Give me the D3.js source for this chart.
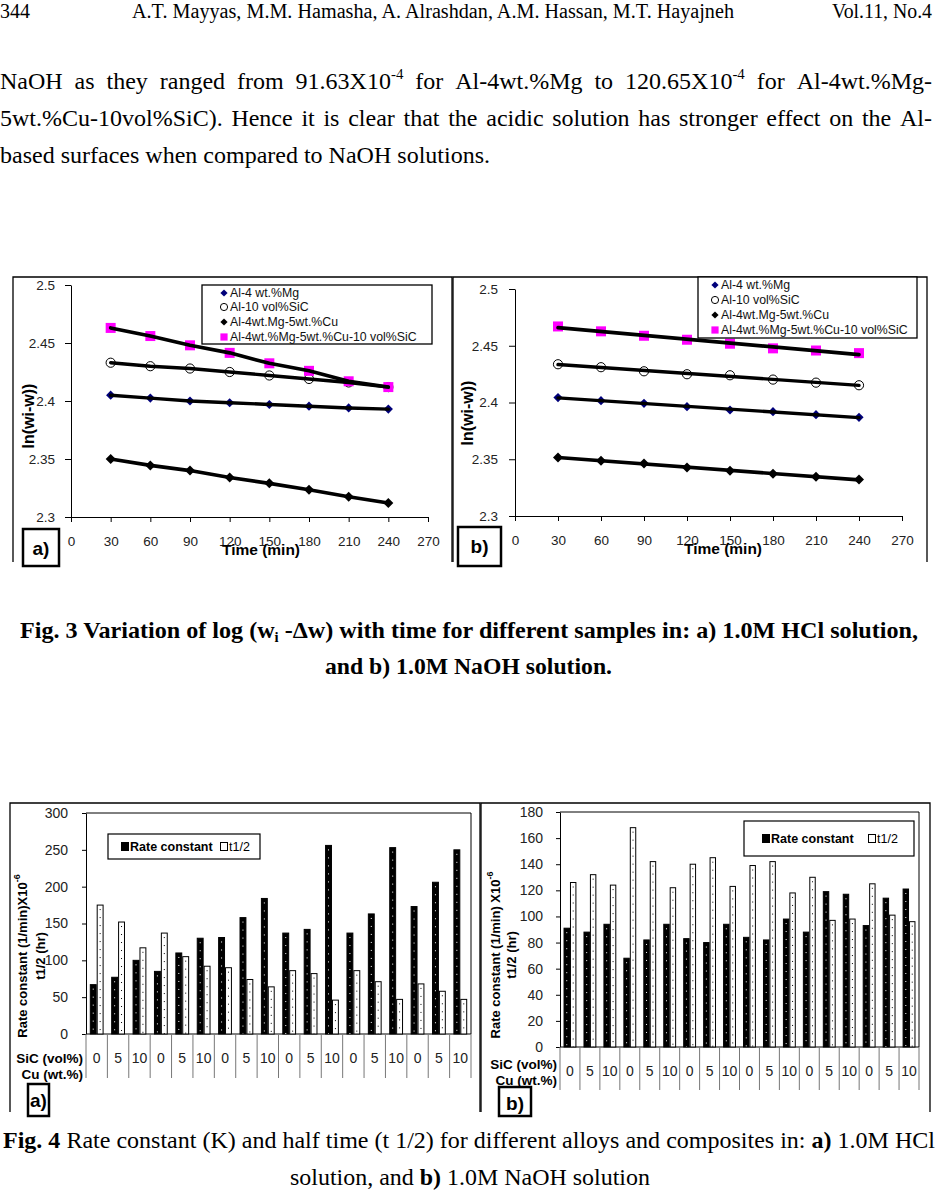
<!DOCTYPE html>
<html><head><meta charset="utf-8">
<script src="https://cdn.jsdelivr.net/npm/d3@7"></script>
<style>body{margin:0;background:#fff}svg{display:block}</style>
</head><body>
<svg id="page" width="937" height="1194"></svg>
<script>
// ---------------- DATA ----------------
const times = [30, 60, 90, 120, 150, 180, 210, 240];
const xTicks = [0, 30, 60, 90, 120, 150, 180, 210, 240, 270];
const yTicks = [2.3, 2.35, 2.4, 2.45, 2.5];
const yTickLabels = ["2.3", "2.35", "2.4", "2.45", "2.5"];
const seriesNames = ["Al-4 wt.%Mg", "Al-10 vol%SiC", "Al-4wt.Mg-5wt.%Cu", "Al-4wt.%Mg-5wt.%Cu-10 vol%SiC"];

// Fig 3a (1.0M HCl)
const hclMg       = [2.405, 2.4025, 2.400, 2.3985, 2.397, 2.3955, 2.394, 2.393];
const hclSiC      = [2.433, 2.430, 2.428, 2.425, 2.422, 2.419, 2.416, 2.412];
const hclMgCu     = [2.350, 2.3445, 2.340, 2.334, 2.329, 2.3235, 2.3175, 2.312];
const hclMgCuSiC  = [2.463, 2.456, 2.448, 2.4415, 2.4325, 2.426, 2.417, 2.412];
// Fig 3b (1.0M NaOH)
const naohMg      = [2.4043, 2.4016, 2.3993, 2.3963, 2.3934, 2.3919, 2.3893, 2.3869];
const naohSiC     = [2.4337, 2.4311, 2.4275, 2.4249, 2.4240, 2.4202, 2.4175, 2.4152];
const naohMgCu    = [2.3516, 2.3487, 2.3463, 2.3428, 2.3399, 2.3372, 2.3346, 2.3322];
const naohMgCuSiC = [2.467, 2.4627, 2.4588, 2.4553, 2.4518, 2.4477, 2.4458, 2.4435];

// Fig 4
const sicLabels = ["0","5","10","0","5","10","0","5","10","0","5","10","0","5","10","0","5","10"];
const hclRate  = [67, 77, 100, 85, 110, 130, 131, 158, 184, 137, 142, 256, 137, 163, 253, 173, 206, 250];
const hclHalf  = [175, 152, 117, 137, 105, 92, 90, 74, 64, 86, 82, 46, 86, 71, 47, 68, 58, 47];
const naohRate = [91, 88, 94, 68, 82, 94, 83, 80, 94, 84, 82, 98, 88, 119, 117, 93, 114, 121];
const naohHalf = [126, 132, 124, 168, 142, 122, 140, 145, 123, 139, 142, 118, 130, 97, 98, 125, 101, 96];
const barTicksA = [0, 50, 100, 150, 200, 250, 300];
const barTicksB = [0, 20, 40, 60, 80, 100, 120, 140, 160, 180];
const barSeries = ["Rate constant", "t1/2"];

// ---------------- PAGE ----------------
const SERIF = "'Liberation Serif','Times New Roman',serif";
const SANS = "'Liberation Sans',Arial,sans-serif";
const svg = d3.select("#page");

// header
svg.append("text").attr("x", 0).attr("y", 18).attr("font-family", SERIF).attr("font-size", 20).text("344");
svg.append("text").attr("x", 132).attr("y", 18).attr("font-family", SERIF).attr("font-size", 20)
  .attr("textLength", 602).attr("lengthAdjust", "spacingAndGlyphs")
  .text("A.T. Mayyas, M.M. Hamasha, A. Alrashdan, A.M. Hassan, M.T. Hayajneh");
svg.append("text").attr("x", 832).attr("y", 18).attr("font-family", SERIF).attr("font-size", 20)
  .attr("textLength", 100).attr("lengthAdjust", "spacingAndGlyphs").text("Vol.11, No.4");

// justified body line: words = array of arrays of segments
function justify(words, y, x0, x1, size) {
  const els = words.map(segs => {
    const t = svg.append("text").attr("y", y).attr("font-family", SERIF).attr("font-size", size);
    segs.forEach(s => {
      const ts = t.append("tspan").text(s.t);
      if (s.sup) ts.attr("font-size", size * 0.62).attr("dy", -size * 0.42);
    });
    return t;
  });
  const widths = els.map(e => e.node().getComputedTextLength());
  const total = d3.sum(widths);
  const gap = (x1 - x0 - total) / (els.length - 1);
  let x = x0;
  els.forEach((e, i) => { e.attr("x", x); x += widths[i] + gap; });
}
const w = s => [{t: s}];
justify([w("NaOH"), w("as"), w("they"), w("ranged"), w("from"), [{t: "91.63X10"}, {t: "-4", sup: true}], w("for"),
  w("Al-4wt.%Mg"), w("to"), [{t: "120.65X10"}, {t: "-4", sup: true}], w("for"), w("Al-4wt.%Mg-")], 89, 0, 932, 24);
justify("5wt.%Cu-10vol%SiC). Hence it is clear that the acidic solution has stronger effect on the Al-".split(" ").map(w), 126, 0, 932, 24);
svg.append("text").attr("x", 0).attr("y", 163).attr("font-family", SERIF).attr("font-size", 24)
  .attr("textLength", 490).attr("lengthAdjust", "spacingAndGlyphs")
  .text("based surfaces when compared to NaOH solutions.");

// captions
const cap3a = svg.append("text").attr("x", 20).attr("y", 638).attr("font-family", SERIF).attr("font-size", 23)
  .attr("font-weight", "bold").attr("textLength", 898).attr("lengthAdjust", "spacingAndGlyphs");
cap3a.append("tspan").text("Fig. 3 Variation of log (w");
cap3a.append("tspan").attr("font-size", 14).attr("dy", 4).text("i");
cap3a.append("tspan").attr("dy", -4).text(" -\u0394w) with time for different samples in: a) 1.0M HCl solution,");
svg.append("text").attr("x", 325).attr("y", 674).attr("font-family", SERIF).attr("font-size", 23)
  .attr("font-weight", "bold").attr("textLength", 287).attr("lengthAdjust", "spacingAndGlyphs")
  .text("and b) 1.0M NaOH solution.");

const cap4a = svg.append("text").attr("x", 3).attr("y", 1148).attr("font-family", SERIF).attr("font-size", 23)
  .attr("textLength", 932).attr("lengthAdjust", "spacingAndGlyphs");
cap4a.append("tspan").attr("font-weight", "bold").text("Fig. 4");
cap4a.append("tspan").text(" Rate constant (K) and half time (t 1/2) for different alloys and composites in: ");
cap4a.append("tspan").attr("font-weight", "bold").text("a)");
cap4a.append("tspan").text(" 1.0M HCl");
const cap4b = svg.append("text").attr("x", 290).attr("y", 1185).attr("font-family", SERIF).attr("font-size", 23)
  .attr("textLength", 360).attr("lengthAdjust", "spacingAndGlyphs");
cap4b.append("tspan").text("solution, and ");
cap4b.append("tspan").attr("font-weight", "bold").text("b)");
cap4b.append("tspan").text(" 1.0M NaOH solution");

// ---------------- MARKERS ----------------
function marker(g, type, cx, cy, s, color) {
  if (type === "diamond") {
    g.append("path").attr("d", `M${cx},${cy - s} L${cx + s},${cy} L${cx},${cy + s} L${cx - s},${cy} Z`).attr("fill", color);
  } else if (type === "circle") {
    g.append("circle").attr("cx", cx).attr("cy", cy).attr("r", s).attr("fill", "none").attr("stroke", "#000").attr("stroke-width", 1);
  } else {
    g.append("rect").attr("x", cx - s).attr("y", cy - s).attr("width", 2 * s).attr("height", 2 * s).attr("fill", color);
  }
}
const styles = [
  {type: "diamond", color: "#00007a", s: 4.6, ls: 3.4},
  {type: "circle", color: "#000", s: 4.6, ls: 3.4},
  {type: "diamond", color: "#000", s: 5, ls: 3.6},
  {type: "square", color: "#ff00ff", s: 5, ls: 3.6}
];

function label(g, x0, y0, x1, y1, txt, tx, ty) {
  g.append("rect").attr("x", x0).attr("y", y0).attr("width", x1 - x0).attr("height", y1 - y0)
    .attr("fill", "#fff").attr("stroke", "#000").attr("stroke-width", 2.5);
  g.append("text").attr("x", tx).attr("y", ty).attr("text-anchor", "middle").attr("font-family", SANS)
    .attr("font-weight", "bold").attr("font-size", 19).text(txt);
}

// ---------------- SCATTER (Fig. 3) ----------------
function scatter(cfg) {
  const g = svg.append("g");
  g.append("path").attr("d", cfg.frame).attr("fill", "none").attr("stroke", "#000").attr("stroke-width", 1.3);
  const x = d3.scaleLinear().domain([0, 270]).range([cfg.x0, cfg.x1]);
  const y = d3.scaleLinear().domain([2.3, 2.5]).range([cfg.y0, cfg.y1]);

  const ya = g.append("g").attr("transform", `translate(${cfg.x0},0)`)
    .call(d3.axisLeft(y).tickValues(yTicks).tickFormat((d, i) => yTickLabels[i]).tickSize(6).tickPadding(cfg.yPad).tickSizeOuter(0));
  const xa = g.append("g").attr("transform", `translate(0,${cfg.y0})`)
    .call(d3.axisBottom(x).tickValues(xTicks).tickSize(5).tickPadding(14).tickSizeOuter(0));
  [ya, xa].forEach(a => {
    a.selectAll("text").attr("font-family", SANS).attr("font-size", 13.5).attr("fill", "#222");
    a.selectAll("path,line").attr("stroke", "#000");
  });

  const lineGen = d3.line().x(d => x(d[0])).y(d => y(d[1]));
  cfg.series.forEach((vals, k) => {
    const st = styles[k];
    vals.forEach((v, i) => marker(g, st.type, x(times[i]), y(v), st.s, st.color));
  });
  cfg.series.forEach((vals, k) => {
    let pts;
    if (cfg.fit) {
      const mx = d3.mean(times), my = d3.mean(vals);
      const b = d3.sum(times, (t, i) => (t - mx) * (vals[i] - my)) / d3.sum(times, t => (t - mx) * (t - mx));
      const a0 = my - b * mx;
      pts = [[times[0], a0 + b * times[0]], [times[times.length - 1], a0 + b * times[times.length - 1]]];
    } else {
      pts = times.map((t, i) => [t, vals[i]]);
    }
    g.append("path").attr("d", lineGen(pts)).attr("fill", "none").attr("stroke", "#000")
      .attr("stroke-width", styles[k].ls).attr("stroke-linejoin", "round").attr("stroke-linecap", "round");
  });

  g.append("text").attr("x", cfg.tx).attr("y", cfg.y0 + 38).attr("text-anchor", "middle").attr("font-family", SANS)
    .attr("font-weight", "bold").attr("font-size", 15.5).text("Time (min)");
  g.append("text").attr("transform", `translate(${cfg.yx},${cfg.yy}) rotate(-90)`).attr("text-anchor", "middle")
    .attr("dominant-baseline", "central").attr("font-family", SANS).attr("font-weight", "bold").attr("font-size", 16)
    .text("ln(wi-w))");

  const L = cfg.legend;
  g.append("rect").attr("x", L.x0).attr("y", L.y0).attr("width", L.x1 - L.x0).attr("height", L.y1 - L.y0)
    .attr("fill", "#fff").attr("stroke", "#000").attr("stroke-width", 1.3);
  seriesNames.forEach((n, k) => {
    const cy = L.ys[k];
    const st = styles[k];
    marker(g, st.type, L.mx, cy, 3.6, st.color);
    g.append("text").attr("x", L.mx + 6).attr("y", cy).attr("dominant-baseline", "central").attr("font-family", SANS)
      .attr("font-size", 12.3).attr("fill", "#111").text(n);
  });
  label(g, cfg.lab[0], cfg.lab[1], cfg.lab[2], cfg.lab[3], cfg.labTxt, (cfg.lab[0] + cfg.lab[2]) / 2, cfg.lab[1] + 26);
}

scatter({
  frame: "M13,562 V277 H452 V562",
  x0: 71, x1: 428, y0: 517, y1: 285, yPad: 10, fit: false,
  series: [hclMg, hclSiC, hclMgCu, hclMgCuSiC],
  tx: 261, yx: 28, yy: 416,
  legend: {x0: 202, y0: 285, x1: 432, y1: 344, mx: 224, ys: [293, 307, 322, 337]},
  lab: [23, 529, 59, 566], labTxt: "a)"
});
scatter({
  frame: "M453,562 V277 H927 V562",
  x0: 515, x1: 902, y0: 516, y1: 289, yPad: 11, fit: true,
  series: [naohMg, naohSiC, naohMgCu, naohMgCuSiC],
  tx: 723, yx: 467, yy: 413,
  legend: {x0: 698, y0: 277, x1: 917, y1: 338, mx: 715, ys: [285, 300, 315, 330]},
  lab: [458, 527, 501, 566], labTxt: "b)"
});

// ---------------- BARS (Fig. 4) ----------------
function bars(cfg) {
  const g = svg.append("g");
  g.append("path").attr("d", cfg.frame).attr("fill", "none").attr("stroke", "#000").attr("stroke-width", 1.3);
  const idx = d3.range(sicLabels.length);
  const x = d3.scaleBand().domain(idx).range([cfg.x0, cfg.x1]).padding(0);
  const x1 = d3.scaleBand().domain(barSeries).range([0, x.bandwidth()]).paddingInner(0).paddingOuter(0.55);
  const y = d3.scaleLinear().domain([0, cfg.ymax]).range([cfg.y0, cfg.y1]);

  g.append("path").attr("d", `M${cfg.x0},${cfg.y1} H${cfg.x1} V${cfg.y0}`).attr("fill", "none").attr("stroke", "#000").attr("stroke-width", 1);
  const ya = g.append("g").attr("transform", `translate(${cfg.x0},0)`)
    .call(d3.axisLeft(y).tickValues(cfg.ticks).tickSize(4).tickPadding(cfg.yPad).tickSizeOuter(0));
  ya.selectAll("text").attr("font-family", SANS).attr("font-size", 14).attr("fill", "#222");
  ya.selectAll("path,line").attr("stroke", "#000");
  g.append("line").attr("x1", cfg.x0).attr("x2", cfg.x1).attr("y1", cfg.y0).attr("y2", cfg.y0).attr("stroke", "#000");

  const seps = idx.map(i => x(i)).concat([cfg.x1]);
  g.selectAll(".sep").data(seps).enter().append("line")
    .attr("x1", d => d).attr("x2", d => d).attr("y1", cfg.y0).attr("y2", cfg.sepEnd)
    .attr("stroke", "#777").attr("stroke-width", 1);
  g.selectAll(".cl").data(idx).enter().append("text")
    .attr("x", i => x(i) + x.bandwidth() / 2).attr("y", cfg.labY).attr("text-anchor", "middle")
    .attr("font-family", SANS).attr("font-size", 14).attr("fill", "#222").text(i => sicLabels[i]);
  g.append("text").attr("x", cfg.x0 - 3).attr("y", cfg.sicY).attr("text-anchor", "end").attr("font-family", SANS)
    .attr("font-weight", "bold").attr("font-size", 13.5).text("SiC (vol%)");
  g.append("text").attr("x", cfg.x0 - 3).attr("y", cfg.sicY + 16).attr("text-anchor", "end").attr("font-family", SANS)
    .attr("font-weight", "bold").attr("font-size", 13.5).text("Cu (wt.%)");

  const sets = [{k: "Rate constant", vals: cfg.rate, fill: "#000", dot: "#fff"},
                {k: "t1/2", vals: cfg.half, fill: "#fff", dot: "#000"}];
  sets.forEach(s => {
    idx.forEach(i => {
      const bx = x(i) + x1(s.k), bw = x1.bandwidth(), by = y(s.vals[i]);
      g.append("rect").attr("x", bx + 0.5).attr("y", by).attr("width", bw - 1).attr("height", cfg.y0 - by)
        .attr("fill", s.fill).attr("stroke", "#000").attr("stroke-width", 1);
      g.append("line").attr("x1", bx + bw / 2).attr("x2", bx + bw / 2).attr("y1", by + 4).attr("y2", cfg.y0)
        .attr("stroke", s.dot).attr("stroke-width", 1).attr("stroke-dasharray", "1,7");
    });
  });

  const t1 = g.append("text").attr("transform", `translate(${cfg.t1x},${cfg.ty}) rotate(-90)`).attr("text-anchor", "middle")
    .attr("dominant-baseline", "central").attr("font-family", SANS).attr("font-weight", "bold").attr("font-size", 13);
  t1.append("tspan").text(cfg.t1);
  t1.append("tspan").attr("font-size", 9).attr("dy", -5).text("-6");
  g.append("text").attr("transform", `translate(${cfg.t2x},${cfg.ty}) rotate(-90)`).attr("text-anchor", "middle")
    .attr("dominant-baseline", "central").attr("font-family", SANS).attr("font-weight", "bold").attr("font-size", 13)
    .text("t1/2 (hr)");

  const L = cfg.legend;
  g.append("rect").attr("x", L.x0).attr("y", L.y0).attr("width", L.x1 - L.x0).attr("height", L.y1 - L.y0)
    .attr("fill", "#fff").attr("stroke", "#000").attr("stroke-width", 1.2);
  const cy = (L.y0 + L.y1) / 2;
  barSeries.forEach((n, k) => {
    const mx = L.mx[k];
    g.append("rect").attr("x", mx - 3.5).attr("y", cy - 4).attr("width", 7).attr("height", 8)
      .attr("fill", k === 0 ? "#000" : "#fff").attr("stroke", "#000").attr("stroke-width", 1);
    g.append("text").attr("x", mx + 5).attr("y", cy).attr("dominant-baseline", "central").attr("font-family", SANS)
      .attr("font-weight", k === 0 ? "bold" : "normal").attr("font-size", 12.5).text(n);
  });
  label(g, cfg.lab[0], cfg.lab[1], cfg.lab[2], cfg.lab[3], cfg.labTxt, (cfg.lab[0] + cfg.lab[2]) / 2, cfg.lab[1] + 23);
}

bars({
  frame: "M10,1112 V803 H480 V1112",
  x0: 86, x1: 471, y0: 1034, y1: 813, ymax: 300, ticks: barTicksA, yPad: 14,
  rate: hclRate, half: hclHalf, sepEnd: 1078, labY: 1063, sicY: 1063,
  t1: "Rate constant (1/min)X10", t1x: 22, t2x: 40, ty: 956,
  legend: {x0: 108, y0: 834, x1: 260, y1: 859, mx: [125, 224]},
  lab: [28, 1084, 49, 1116], labTxt: "a)"
});
bars({
  frame: "M481,1112 V803 H930 V1112",
  x0: 560, x1: 919, y0: 1047, y1: 812, ymax: 180, ticks: barTicksB, yPad: 13,
  rate: naohRate, half: naohHalf, sepEnd: 1090, labY: 1076, sicY: 1069,
  t1: "Rate constant (1/min) X10", t1x: 495, t2x: 511, ty: 955,
  legend: {x0: 744, y0: 821, x1: 914, y1: 856, mx: [766, 872]},
  lab: [499, 1087, 531, 1116], labTxt: "b)"
});
</script>
</body></html>
